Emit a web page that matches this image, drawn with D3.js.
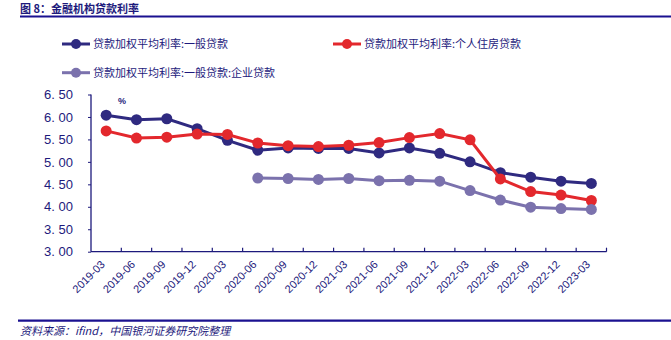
<!DOCTYPE html>
<html><head><meta charset="utf-8">
<script src="https://cdn.jsdelivr.net/npm/d3@7"></script>
<style>
body{margin:0;background:#fff;}
svg{display:block;}
</style></head>
<body>
<svg id="c" width="671" height="340"></svg>
<script>
const categories = ["2019-03","2019-06","2019-09","2019-12","2020-03","2020-06","2020-09","2020-12","2021-03","2021-06","2021-09","2021-12","2022-03","2022-06","2022-09","2022-12","2023-03"];
const general = [6.04,5.94,5.96,5.74,5.48,5.26,5.31,5.30,5.30,5.20,5.31,5.19,5.00,4.76,4.66,4.57,4.52];
const housing = [5.69,5.53,5.55,5.62,5.61,5.42,5.36,5.34,5.37,5.43,5.54,5.63,5.49,4.62,4.34,4.26,4.14];
const corporate = [null,null,null,null,null,4.64,4.63,4.61,4.63,4.58,4.59,4.57,4.36,4.15,3.99,3.96,3.94];
const yTicks = [3.00,3.50,4.00,4.50,5.00,5.50,6.00,6.50];
const seriesNames = ["贷款加权平均利率:一般贷款","贷款加权平均利率:个人住房贷款","贷款加权平均利率:一般贷款:企业贷款"];
const colors = ["#2f2a80","#e3282d","#7b72ad"];

const navy = "#1d1a7c";
const svg = d3.select("#c");
const x = d3.scaleBand().domain(categories).range([91, 606.5]);
const y = d3.scaleLinear().domain([3, 6.5]).range([251.7, 94.5]);

// title
svg.append("text").attr("x",20).attr("y",13).attr("fill",navy)
  .attr("font-family","Noto Sans CJK SC").attr("font-weight","bold").attr("font-size",11)
  .text("图 8：金融机构贷款利率");
svg.append("line").attr("x1",20).attr("x2",671).attr("y1",16.5).attr("y2",16.5)
  .attr("stroke","#1a1190").attr("stroke-width",2.2);
svg.append("line").attr("x1",18).attr("x2",671).attr("y1",320.7).attr("y2",320.7)
  .attr("stroke","#1a1190").attr("stroke-width",2.2);
svg.append("text").attr("x",20).attr("y",335).attr("fill",navy)
  .attr("font-family","Noto Sans CJK SC").attr("font-size",11).attr("font-style","italic")
  .text("资料来源：ifind，中国银河证券研究院整理");

// axes
const yAxis = d3.axisLeft(y).tickValues(yTicks).tickFormat(d=>d3.format(".2f")(d).replace(".",". ")).tickSize(3).tickPadding(15);
const gy = svg.append("g").attr("transform","translate(91,0)").call(yAxis);
gy.selectAll("text").attr("font-family","Liberation Sans, Arial").attr("font-size",13).attr("fill",navy);
gy.selectAll("line").attr("stroke",navy);
gy.select(".domain").attr("stroke",navy).attr("stroke-width",1.3).attr("d","M0,94.5V251.7");

const gx = svg.append("g").attr("transform","translate(0,251.7)");
gx.append("line").attr("x1",91).attr("x2",606.5).attr("stroke",navy).attr("stroke-width",1.3);
const bounds = categories.map(c=>x(c)).concat([x.range()[1]]);
gx.selectAll("line.t").data(bounds.slice(1)).enter().append("line").attr("class","t")
  .attr("x1",d=>d).attr("x2",d=>d).attr("y1",0).attr("y2",-4).attr("stroke",navy).attr("stroke-width",1.2);
gx.selectAll("text").data(categories).enter().append("text")
  .attr("transform",d=>`translate(${x(d)+x.bandwidth()/2-6},8) rotate(-45)`)
  .attr("text-anchor","end").attr("dy","0.7em")
  .attr("font-family","Liberation Sans, Arial").attr("font-size",11).attr("fill",navy)
  .text(d=>d);

svg.append("text").attr("x",122).attr("y",104).attr("text-anchor","middle").attr("fill",navy)
  .attr("font-family","Liberation Sans, Arial").attr("font-size",9).attr("font-weight","bold").text("%");

// lines
const all = [general, housing, corporate];
const line = d3.line().defined(d=>d.v!=null).x(d=>x(d.c)+x.bandwidth()/2).y(d=>y(d.v));
[0,1,2].forEach(i=>{
  const data = categories.map((c,j)=>({c, v: all[i][j]}));
  const g = svg.append("g");
  g.append("path").datum(data).attr("d",line).attr("fill","none").attr("stroke",colors[i]).attr("stroke-width",3);
  g.selectAll("circle").data(data.filter(d=>d.v!=null)).enter().append("circle")
    .attr("cx",d=>x(d.c)+x.bandwidth()/2).attr("cy",d=>y(d.v)).attr("r",5.5).attr("fill",colors[i]);
});

// legend
const legendPos = [[62,44],[333,44],[62,72.7]];
seriesNames.forEach((n,i)=>{
  const [lx,ly] = legendPos[i];
  svg.append("line").attr("x1",lx).attr("x2",lx+28).attr("y1",ly).attr("y2",ly).attr("stroke",colors[i]).attr("stroke-width",3);
  svg.append("circle").attr("cx",lx+14).attr("cy",ly).attr("r",5).attr("fill",colors[i]);
  svg.append("text").attr("x",lx+31).attr("y",ly).attr("dy","0.35em").attr("fill",navy)
    .attr("font-family","Noto Sans CJK SC").attr("font-size",11).text(n);
});
</script>
</body></html>
